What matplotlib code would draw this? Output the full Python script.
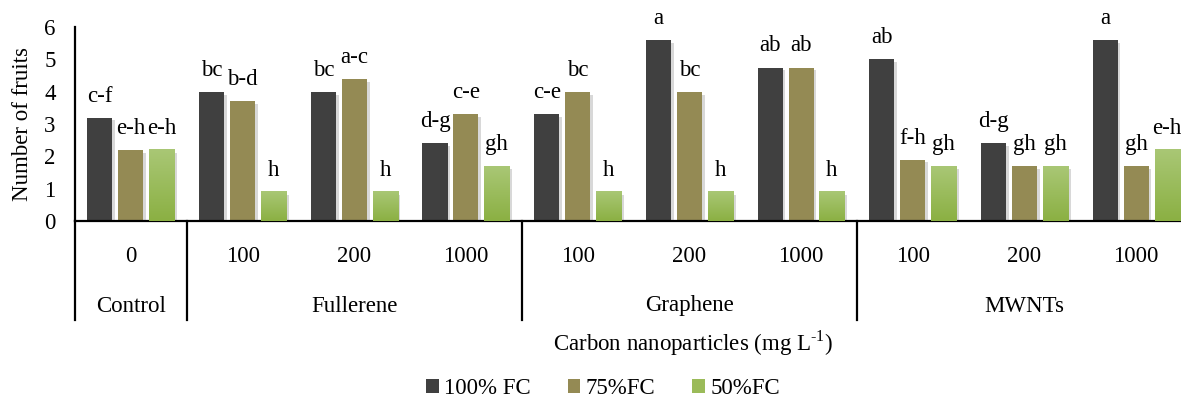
import numpy as np
import matplotlib
matplotlib.use('Agg')
import matplotlib.pyplot as plt
import matplotlib.patheffects as pe
from matplotlib.colors import LinearSegmentedColormap
from matplotlib.patches import Patch

# Data
doses = ['0', '100', '200', '1000', '100', '200', '1000', '100', '200', '1000']
groups = ['Control', 'Fullerene', 'Graphene', 'MWNTs']
group_sizes = [1, 3, 3, 3]
series_names = ['100% FC', '75%FC', '50%FC']
fc100 = [3.2, 4.0, 4.0, 2.4, 3.3, 5.6, 4.75, 5.0, 2.4, 5.6]
fc75 = [2.2, 3.7, 4.4, 3.3, 4.0, 4.0, 4.75, 1.9, 1.7, 1.7]
fc50 = [2.2, 0.9, 0.9, 1.7, 0.9, 0.9, 0.9, 1.7, 1.7, 2.2]
letters100 = ['c-f', 'bc', 'bc', 'd-g', 'c-e', 'a', 'ab', 'ab', 'd-g', 'a']
letters75 = ['e-h', 'b-d', 'a-c', 'c-e', 'bc', 'bc', 'ab', 'f-h', 'gh', 'gh']
letters50 = ['e-h', 'h', 'h', 'gh', 'h', 'h', 'h', 'gh', 'gh', 'e-h']

colors = ['#404040', '#948a54', '#9bbb59']
plt.rcParams['font.family'] = ['Liberation Serif', 'DejaVu Serif']
plt.rcParams['font.size'] = 16.5
plt.rcParams['mathtext.fontset'] = 'custom'
plt.rcParams['mathtext.rm'] = 'Liberation Serif'

W, H = 1181, 403
fig = plt.figure(figsize=(W / 100, H / 100), dpi=100)
ax_l, ax_r, ax_b, ax_t = 75, 1192, 221, 27.2
ax = fig.add_axes([ax_l / W, 1 - ax_b / H, (ax_r - ax_l) / W, (ax_b - ax_t) / H])

x = np.arange(len(doses))
width = 0.224
step = 0.277
shadow = [pe.SimplePatchShadow(offset=(2, -2), shadow_rgbFace='#808080', alpha=0.3), pe.Normal()]
green_cmap = LinearSegmentedColormap.from_list('g', ['#8bb043', '#a9c775'])

all_series = [fc100, fc75, fc50]
all_letters = [letters100, letters75, letters50]
for i, (vals, labs) in enumerate(zip(all_series, all_letters)):
    pos = x + (i - 1) * step
    bars = ax.bar(pos, vals, width, color=colors[i], zorder=2, label=series_names[i])
    for b, lab in zip(bars, labs):
        b.set_path_effects(shadow)
        if i == 2:
            # green bars have a vertical gradient
            grad = np.linspace(0, 1, 100).reshape(-1, 1)
            ax.imshow(grad, extent=[b.get_x(), b.get_x() + b.get_width(), 0, b.get_height()],
                      origin='lower', aspect='auto', cmap=green_cmap, zorder=3)
        ax.annotate(lab, (b.get_x() + b.get_width() / 2, b.get_height()),
                    xytext=(0, 8), textcoords='offset points', ha='center', va='bottom')

ax.set_xlim(-0.5, len(doses) - 0.5)
ax.set_ylim(0, 6)
ax.set_yticks(range(0, 7))
ax.set_xticks([])
ax.tick_params(axis='y', length=0, pad=14)
for s in ['top', 'right']:
    ax.spines[s].set_visible(False)
for s in ['left', 'bottom']:
    ax.spines[s].set_linewidth(1.6)
ax.set_ylabel('Number of fruits')
ax.yaxis.set_label_coords(-0.038, 0.5)

# Two-level category axis
trans = ax.get_xaxis_transform()
axh = ax_b - ax_t
for xi, d in zip(x, doses):
    ax.text(xi, -36 / axh, d, transform=trans, ha='center', va='center')
start = 0
bounds = [-0.5]
for g, n in zip(groups, group_sizes):
    ax.text(start + (n - 1) / 2, -85 / axh, g, transform=trans, ha='center', va='center')
    start += n
    bounds.append(start - 0.5)
for bx in bounds:
    ax.plot([bx, bx], [0, -99 / axh], transform=trans, color='black', lw=1.6, clip_on=False)

fig.text(693 / W, 1 - 343 / H, 'Carbon nanoparticles (mg L$^{\\text{-1}}$)', ha='center', va='center')

handles = [Patch(facecolor=c) for c in colors]
fig.legend(handles, series_names, loc='center', bbox_to_anchor=(603 / W, 1 - 389 / H), ncol=3,
           frameon=False, handlelength=0.55, handleheight=0.55, handletextpad=0.25, columnspacing=1.6)

fig.savefig('out.png', dpi=100)
